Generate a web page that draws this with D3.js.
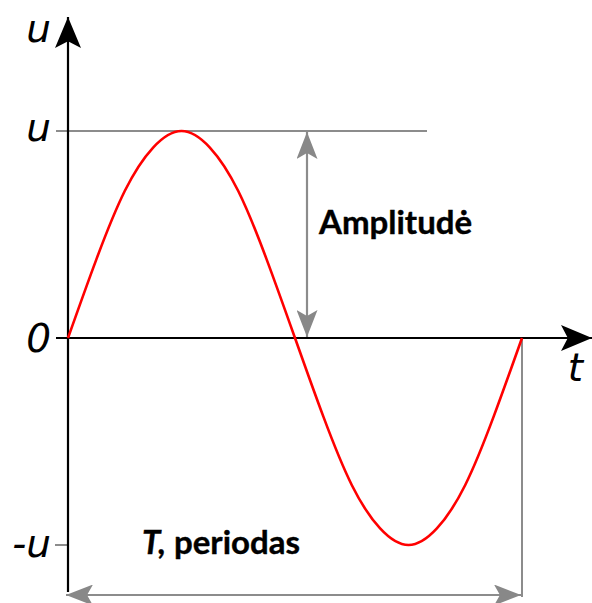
<!DOCTYPE html>
<html><head><meta charset="utf-8">
<script src="https://cdn.jsdelivr.net/npm/d3@7"></script>
<style>body{margin:0;background:#fff}svg{display:block}</style>
</head><body>
<script>
// Sampled readings of the curve (t as fraction of period T, u as fraction of amplitude U)
const tValues = [0, 0.0625, 0.125, 0.1875, 0.25, 0.3125, 0.375, 0.4375, 0.5, 0.5625, 0.625, 0.6875, 0.75, 0.8125, 0.875, 0.9375, 1];
const uValues = [0, 0.38, 0.71, 0.92, 1.0, 0.92, 0.71, 0.38, 0, -0.38, -0.71, -0.92, -1.0, -0.92, -0.71, -0.38, 0];
const yTickValues = [1, 0, -1];
const yTickLabels = ["u", "0", "-u"];
const amplitudeLabel = "Amplitudė";
const periodLabelItalic = "T,";
const periodLabel = " periodas";
const axisLabels = {x: "t", y: "u"};

const W = 592, H = 603;
const svg = d3.select("body").append("svg").attr("width", W).attr("height", H);

const x = d3.scaleLinear().domain([0, 1]).range([68, 522]);
const y = d3.scaleLinear().domain([-1, 1]).range([545, 131]);

const defs = svg.append("defs");
function marker(id, color, w, h) {
  defs.append("marker").attr("id", id).attr("viewBox", `0 0 ${w} ${h}`)
    .attr("refX", w).attr("refY", h/2).attr("markerWidth", w).attr("markerHeight", h)
    .attr("markerUnits", "userSpaceOnUse").attr("orient", "auto-start-reverse")
    .append("path").attr("d", `M0,0L${w},${h/2}L0,${h}L${w*0.22},${h/2}Z`).attr("fill", color);
}
marker("blackArrow", "#000", 31, 26);
marker("grayArrow", "#888", 27, 21);

const gray = "#8c8c8c";

// amplitude reference line
svg.append("line").attr("x1", 56).attr("x2", 427).attr("y1", y(1)).attr("y2", y(1))
  .attr("stroke", gray).attr("stroke-width", 2);
// -u tick
svg.append("line").attr("x1", 55).attr("x2", x(0)).attr("y1", y(-1)).attr("y2", y(-1))
  .attr("stroke", gray).attr("stroke-width", 2);
// period end vertical
svg.append("line").attr("x1", x(1)).attr("x2", x(1)).attr("y1", y(0)).attr("y2", 597)
  .attr("stroke", gray).attr("stroke-width", 2);
// amplitude arrow
svg.append("line").attr("x1", 307).attr("x2", 307).attr("y1", y(1) + 1).attr("y2", y(0) - 1)
  .attr("stroke", gray).attr("stroke-width", 2.2)
  .attr("marker-start", "url(#grayArrow)").attr("marker-end", "url(#grayArrow)");
// period arrow
svg.append("line").attr("x1", x(0) - 2).attr("x2", x(1) - 1).attr("y1", 595).attr("y2", 595)
  .attr("stroke", gray).attr("stroke-width", 2.2)
  .attr("marker-start", "url(#grayArrow)").attr("marker-end", "url(#grayArrow)");

// axes
svg.append("line").attr("x1", x(0)).attr("x2", x(0)).attr("y1", 592).attr("y2", 17)
  .attr("stroke", "#000").attr("stroke-width", 2.2).attr("marker-end", "url(#blackArrow)");
svg.append("line").attr("x1", 56).attr("x2", 592).attr("y1", y(0)).attr("y2", y(0))
  .attr("stroke", "#000").attr("stroke-width", 2.2).attr("marker-end", "url(#blackArrow)");

// curve
const data = tValues.map((t, i) => ({t, u: uValues[i]}));
svg.append("path").datum(data)
  .attr("d", d3.line().x(d => x(d.t)).y(d => y(d.u)).curve(d3.curveNatural))
  .attr("fill", "none").attr("stroke", "#ff0000").attr("stroke-width", 2.6);

// tick labels
const labFont = "'DejaVu Sans', sans-serif";
const labSize = 39;
const tickDy = [10, 14, 12];
svg.selectAll("text.ytick").data(yTickValues).enter().append("text")
  .attr("class", "ytick")
  .attr("x", 51).attr("y", (d, i) => y(d) + tickDy[i])
  .attr("text-anchor", "end").attr("font-family", labFont).attr("font-style", "italic")
  .attr("font-size", labSize).attr("fill", "#000")
  .text((d, i) => yTickLabels[i]);
svg.append("text").attr("x", 51).attr("y", 42).attr("text-anchor", "end")
  .attr("font-family", labFont).attr("font-style", "italic").attr("font-size", labSize).text(axisLabels.y);
svg.append("text").attr("x", 583).attr("y", 381).attr("text-anchor", "end")
  .attr("font-family", labFont).attr("font-style", "italic").attr("font-size", labSize).text(axisLabels.x);

// annotations
const annFont = "Lato, 'Open Sans', sans-serif";
svg.append("text").attr("x", 319).attr("y", 234).attr("font-family", annFont)
  .attr("font-weight", "bold").attr("font-size", 33).attr("fill", "#000")
  .attr("stroke", "#000").attr("stroke-width", 0.4).text(amplitudeLabel);
const pt = svg.append("text").attr("x", 142).attr("y", 554).attr("font-family", annFont)
  .attr("font-weight", "bold").attr("font-size", 33).attr("fill", "#000")
  .attr("stroke", "#000").attr("stroke-width", 0.4);
pt.append("tspan").attr("font-style", "italic").text(periodLabelItalic);
pt.append("tspan").text(periodLabel);
</script>
</body></html>
